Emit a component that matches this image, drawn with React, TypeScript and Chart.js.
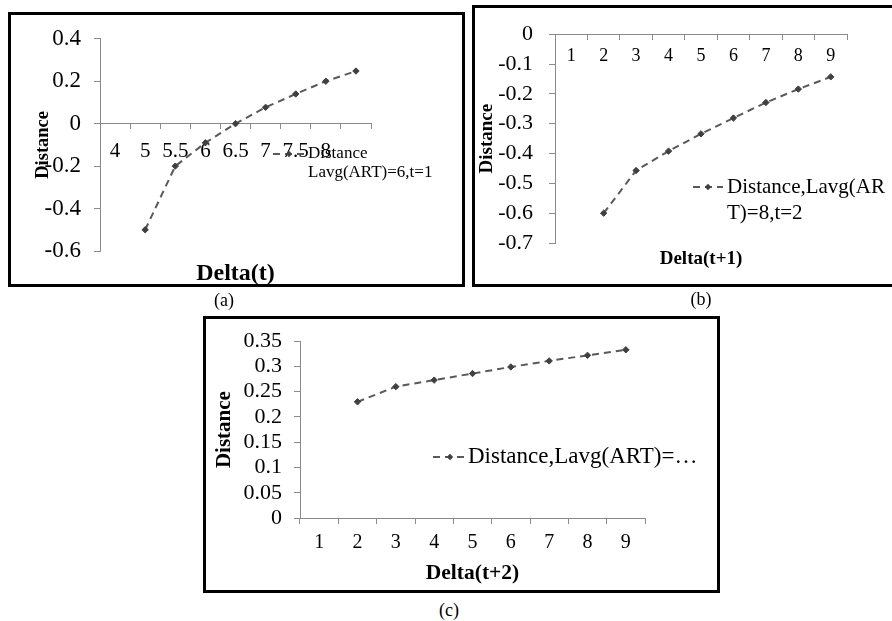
import React, { useEffect, useRef } from "react";
import { Chart, registerables } from "chart.js";

Chart.register(...registerables);

// ---------- data ----------
const catsA = ["4", "5", "5.5", "6", "6.5", "7", "7.5", "8", ""];
const valsA = [null, -0.5, -0.2, -0.09, 0, 0.077, 0.14, 0.2, 0.248];
const yTicksA = [-0.6, -0.4, -0.2, 0, 0.2, 0.4];
const legendA = ["Distance", "Lavg(ART)=6,t=1"];

const catsB = ["1", "2", "3", "4", "5", "6", "7", "8", "9"];
const valsB = [null, -0.6, -0.457, -0.392, -0.334, -0.281, -0.229, -0.184, -0.143];
const yTicksB = [-0.7, -0.6, -0.5, -0.4, -0.3, -0.2, -0.1, 0];
const legendB = ["Distance,Lavg(AR", "T)=8,t=2"];

const catsC = ["1", "2", "3", "4", "5", "6", "7", "8", "9"];
const valsC = [null, 0.23, 0.26, 0.273, 0.286, 0.299, 0.311, 0.322, 0.333];
const yTicksC = [0, 0.05, 0.1, 0.15, 0.2, 0.25, 0.3, 0.35];
const legendC = ["Distance,Lavg(ART)=…"];

// ---------- styling ----------
const SERIF = "'Liberation Serif', 'Times New Roman', serif";
const LINE = "#595959";
const MARK = "#404040";
const AXIS = "#8a8a8a";

type Spec = {
  cats: string[];
  vals: (number | null)[];
  yTicks: number[];
  label: string;
  legend: { lines: string[]; x0: number; x1: number; y: number; tx: number; size: number; lh: number };
  padding: { left: number; right: number; top: number; bottom: number };
  yWidth: number;
  yFont: number;
  yPad: number;
  yTitleSize: number;
  xPos: any;
  xHeight: number;
  xFont: number;
  xPad: number;
  xTl: number;
  xTitle: string;
  xTitleSize: number;
};

function legendPlugin(s: Spec) {
  return {
    id: "sideLegend",
    afterDraw(chart: any) {
      const ctx = chart.ctx as CanvasRenderingContext2D;
      const ds = chart.data.datasets[0];
      const L = s.legend;
      ctx.save();
      ctx.strokeStyle = ds.borderColor;
      ctx.lineWidth = ds.borderWidth;
      ctx.setLineDash(ds.borderDash);
      ctx.beginPath();
      ctx.moveTo(L.x0, L.y);
      ctx.lineTo(L.x1, L.y);
      ctx.stroke();
      ctx.setLineDash([]);
      const cx = (L.x0 + L.x1) / 2;
      const r = 3.2;
      ctx.fillStyle = ds.pointBackgroundColor;
      ctx.beginPath();
      ctx.moveTo(cx, L.y - r);
      ctx.lineTo(cx + r, L.y);
      ctx.lineTo(cx, L.y + r);
      ctx.lineTo(cx - r, L.y);
      ctx.closePath();
      ctx.fill();
      ctx.font = `${L.size}px ${SERIF}`;
      ctx.fillStyle = "#000";
      ctx.textAlign = "left";
      ctx.textBaseline = "middle";
      L.lines.forEach((t, i) => ctx.fillText(t, L.tx, L.y + i * L.lh));
      ctx.restore();
    },
  };
}

function makeChart(canvas: HTMLCanvasElement, s: Spec) {
  const yMin = Math.min(...s.yTicks);
  const yMax = Math.max(...s.yTicks);
  const step = Number((s.yTicks[1] - s.yTicks[0]).toFixed(4));
  return new Chart(canvas, {
    type: "line",
    data: {
      labels: s.cats,
      datasets: [
        {
          label: s.label,
          data: s.vals as any,
          borderColor: LINE,
          borderWidth: 2,
          borderDash: [7, 5],
          pointStyle: "rectRot",
          pointRadius: 3.2,
          pointBackgroundColor: MARK,
          pointBorderColor: MARK,
          pointBorderWidth: 1,
          tension: 0,
          fill: false,
        },
      ],
    },
    plugins: [legendPlugin(s) as any],
    options: {
      animation: false,
      responsive: false,
      devicePixelRatio: 1,
      layout: { padding: s.padding },
      plugins: { legend: { display: false }, tooltip: { enabled: false } },
      scales: {
        x: {
          type: "category",
          position: s.xPos,
          offset: true,
          grid: { offset: true, drawOnChartArea: false, drawTicks: true, tickLength: s.xTl, color: AXIS },
          border: { color: AXIS, width: 1 },
          ticks: {
            autoSkip: false,
            maxRotation: 0,
            minRotation: 0,
            padding: s.xPad,
            color: "#000",
            font: { family: SERIF, size: s.xFont },
          },
          title: {
            display: true,
            text: s.xTitle,
            color: "#000",
            font: { family: SERIF, size: s.xTitleSize, weight: "bold" },
            padding: { top: 4, bottom: 4 },
          },
          afterFit: (sc: any) => {
            sc.height = s.xHeight;
          },
        },
        y: {
          type: "linear",
          position: "left",
          min: yMin,
          max: yMax,
          grid: { drawOnChartArea: false, drawTicks: true, tickLength: 6, color: AXIS },
          border: { color: AXIS, width: 1 },
          ticks: {
            stepSize: step,
            autoSkip: false,
            padding: s.yPad,
            color: "#000",
            font: { family: SERIF, size: s.yFont },
            callback: (v: any) => String(Number(Number(v).toFixed(2))),
          },
          title: {
            display: true,
            text: "Distance",
            color: "#000",
            font: { family: SERIF, size: s.yTitleSize, weight: "bold" },
            padding: { top: 0, bottom: 0 },
          },
          afterFit: (sc: any) => {
            sc.width = s.yWidth;
          },
        },
      },
    } as any,
  });
}

const specA: Spec = {
  cats: catsA,
  vals: valsA,
  yTicks: yTicksA,
  label: "Distance Lavg(ART)=6,t=1",
  legend: { lines: legendA, x0: 265, x1: 297, y: 142, tx: 300, size: 17, lh: 19 },
  padding: { left: 24, right: 94, top: 18, bottom: 36 },
  yWidth: 68,
  yFont: 23,
  yPad: 13,
  yTitleSize: 18.5,
  xPos: { y: 0 },
  xHeight: 168.4,
  xFont: 21,
  xPad: 10,
  xTl: 5,
  xTitle: "Delta(t)",
  xTitleSize: 24,
};

const specB: Spec = {
  cats: catsB,
  vals: valsB,
  yTicks: yTicksB,
  label: "Distance,Lavg(ART)=8,t=2",
  legend: { lines: legendB, x0: 221, x1: 251, y: 182, tx: 255, size: 21, lh: 26 },
  padding: { left: 4, right: 45, top: 28, bottom: 44 },
  yWidth: 79,
  yFont: 22,
  yPad: 16,
  yTitleSize: 19,
  xPos: { y: 0 },
  xHeight: 240.4,
  xFont: 18,
  xPad: 6,
  xTl: 5,
  xTitle: "Delta(t+1)",
  xTitleSize: 19,
};

const specC: Spec = {
  cats: catsC,
  vals: valsC,
  yTicks: yTicksC,
  label: "Distance,Lavg(ART)=…",
  legend: { lines: legendC, x0: 230, x1: 264, y: 141, tx: 265, size: 23, lh: 26 },
  padding: { left: 9, right: 75, top: 23, bottom: 3 },
  yWidth: 88,
  yFont: 22,
  yPad: 12,
  yTitleSize: 21,
  xPos: "bottom",
  xHeight: 72,
  xFont: 20,
  xPad: 7,
  xTl: 6,
  xTitle: "Delta(t+2)",
  xTitleSize: 21.5,
};

const frame = (left: number, top: number, width: number, height: number): React.CSSProperties => ({
  position: "absolute",
  left,
  top,
  width,
  height,
  border: "3px solid #000",
  boxSizing: "border-box",
  pointerEvents: "none",
});

const cap = (cx: number, cy: number): React.CSSProperties => ({
  position: "absolute",
  left: cx - 30,
  top: cy - 11,
  width: 60,
  height: 22,
  lineHeight: "22px",
  textAlign: "center",
  fontFamily: SERIF,
  fontSize: 18,
  color: "#000",
});

export default function App() {
  const refA = useRef<HTMLCanvasElement>(null);
  const refB = useRef<HTMLCanvasElement>(null);
  const refC = useRef<HTMLCanvasElement>(null);

  useEffect(() => {
    const charts = [
      makeChart(refA.current!, specA),
      makeChart(refB.current!, specB),
      makeChart(refC.current!, specC),
    ];
    return () => charts.forEach((c) => c.destroy());
  }, []);

  return (
    <div
      style={{
        position: "absolute",
        left: 0,
        top: 0,
        width: 892,
        height: 621,
        background: "#fff",
        overflow: "hidden",
      }}
    >
      <canvas ref={refA} width={457} height={275} style={{ position: "absolute", left: 8, top: 12 }} />
      <div style={frame(8, 12, 457, 275)} />
      <div style={cap(224, 300)}>(a)</div>

      <canvas ref={refB} width={420} height={282} style={{ position: "absolute", left: 472, top: 5 }} />
      <div style={frame(472, 5, 426, 282)} />
      <div style={cap(701, 299)}>(b)</div>

      <canvas ref={refC} width={517} height={277} style={{ position: "absolute", left: 203, top: 316 }} />
      <div style={frame(203, 316, 517, 277)} />
      <div style={cap(449, 610)}>(c)</div>
    </div>
  );
}
